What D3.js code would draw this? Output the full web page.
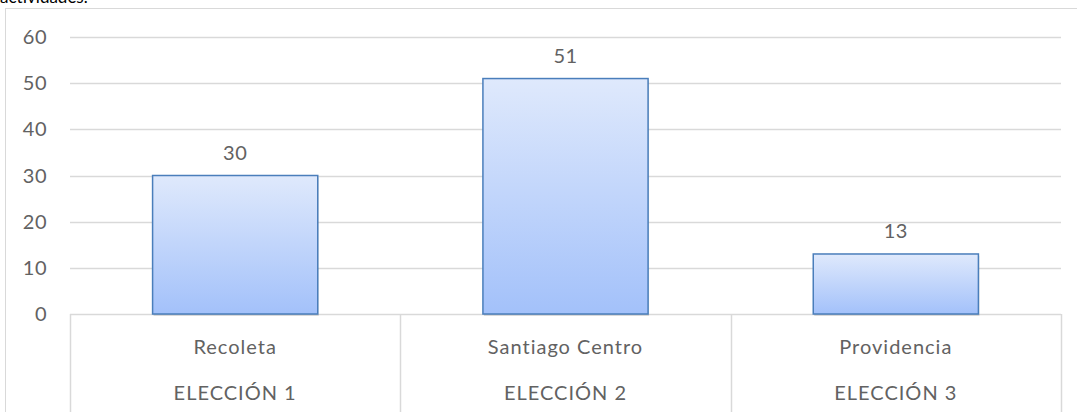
<!DOCTYPE html>
<html>
<head>
<meta charset="utf-8">
<script src="https://cdn.jsdelivr.net/npm/d3@7"></script>
<style>
  body { margin: 0; background: #fff; }
  svg text { font-family: Lato, "Noto Sans", sans-serif; }
</style>
</head>
<body>
<div id="chart"></div>
<script>
(function () {

    // data
    const comunas = ['Recoleta', 'Santiago Centro', 'Providencia'];
    const elecciones = ['ELECCIÓN 1', 'ELECCIÓN 2', 'ELECCIÓN 3'];
    const votos = [30, 51, 13];
    const yTicks = [0, 10, 20, 30, 40, 50, 60];

    var width = 1077, height = 412;
    var margin = {top: 37, left: 70, right: 16, bottom: 98};
    var textColor = '#626262';

    var svg = d3.select('#chart').append('svg')
        .attr('width', width)
        .attr('height', height);

    // gradient for bars
    var grad = svg.append('defs').append('linearGradient')
        .attr('id', 'barGrad')
        .attr('x1', 0).attr('y1', 0).attr('x2', 0).attr('y2', 1);
    grad.append('stop').attr('offset', '0%').attr('stop-color', '#dfe9fc');
    grad.append('stop').attr('offset', '100%').attr('stop-color', '#a3c1fa');

    // title text, only its lower edge shows at the top
    svg.append('text')
        .attr('x', 0).attr('y', 3)
        .attr('font-size', 17)
        .attr('fill', '#000')
        .text('actividades.');

    // chart frame
    svg.append('rect')
        .attr('x', 5.5).attr('y', 8.5)
        .attr('width', width + 10).attr('height', height + 10)
        .attr('fill', 'none')
        .attr('stroke', '#d9d9d9');

    var x = d3.scaleBand()
        .domain(comunas)
        .range([margin.left, width - margin.right])
        .paddingInner(0).paddingOuter(0);

    var y = d3.scaleLinear()
        .domain([0, 60])
        .range([height - margin.bottom, margin.top]);

    // gridlines
    svg.append('g')
        .selectAll('line')
        .data(yTicks)
        .join('line')
        .attr('x1', margin.left).attr('x2', width - margin.right)
        .attr('y1', d => Math.round(y(d)) + 0.5).attr('y2', d => Math.round(y(d)) + 0.5)
        .attr('stroke', '#d9d9d9')
        .attr('stroke-width', 1.5);

    // y axis labels
    svg.append('g')
        .selectAll('text')
        .data(yTicks)
        .join('text')
        .attr('x', 47)
        .attr('y', d => y(d))
        .attr('dy', '0.35em')
        .attr('text-anchor', 'end')
        .attr('font-size', 20)
        .attr('letter-spacing', 0.5)
        .attr('fill', textColor)
        .text(d => d);

    // category dividers
    var bounds = [margin.left].concat(comunas.map(c => x(c) + x.bandwidth()));
    svg.append('g')
        .selectAll('line')
        .data(bounds)
        .join('line')
        .attr('x1', d => Math.round(d) + 0.5).attr('x2', d => Math.round(d) + 0.5)
        .attr('y1', y(0)).attr('y2', height)
        .attr('stroke', '#d9d9d9')
        .attr('stroke-width', 1.5);

    // bars
    var barW = x.bandwidth() * 0.5;
    var bars = svg.append('g');
    bars.selectAll('rect.shadow')
        .data(votos)
        .join('rect')
        .attr('class', 'shadow')
        .attr('x', (d, i) => x(comunas[i]) + (x.bandwidth() - barW) / 2 + 1)
        .attr('y', d => y(d) + 2)
        .attr('width', barW)
        .attr('height', d => y(0) - y(d))
        .attr('fill', '#000')
        .attr('opacity', 0.12);
    bars.selectAll('rect.bar')
        .data(votos)
        .join('rect')
        .attr('class', 'bar')
        .attr('x', (d, i) => x(comunas[i]) + (x.bandwidth() - barW) / 2)
        .attr('y', d => y(d))
        .attr('width', barW)
        .attr('height', d => y(0) - y(d))
        .attr('fill', 'url(#barGrad)')
        .attr('stroke', '#4a7ebb')
        .attr('stroke-width', 1.5);

    // value labels
    svg.append('g')
        .selectAll('text')
        .data(votos)
        .join('text')
        .attr('x', (d, i) => x(comunas[i]) + x.bandwidth() / 2)
        .attr('y', d => y(d) - 23)
        .attr('dy', '0.35em')
        .attr('text-anchor', 'middle')
        .attr('font-size', 20)
        .attr('letter-spacing', 0.5)
        .attr('fill', textColor)
        .text(d => d);

    // category labels, two levels
    svg.append('g')
        .selectAll('text')
        .data(comunas)
        .join('text')
        .attr('x', d => x(d) + x.bandwidth() / 2)
        .attr('y', 347)
        .attr('dy', '0.35em')
        .attr('text-anchor', 'middle')
        .attr('font-size', 20)
        .attr('letter-spacing', 1)
        .attr('fill', textColor)
        .text(d => d);

    svg.append('g')
        .selectAll('text')
        .data(elecciones)
        .join('text')
        .attr('x', (d, i) => x(comunas[i]) + x.bandwidth() / 2)
        .attr('y', 393)
        .attr('dy', '0.35em')
        .attr('text-anchor', 'middle')
        .attr('font-size', 20)
        .attr('letter-spacing', 1)
        .attr('fill', textColor)
        .text(d => d);
})();
</script>
</body>
</html>
